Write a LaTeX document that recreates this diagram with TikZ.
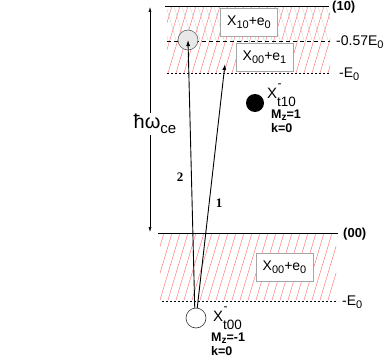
\documentclass[tikz,border=0pt]{standalone}
\usepackage{fontspec}
\setmainfont{Liberation Sans}
\newfontfamily\numfont{Liberation Serif}
\usetikzlibrary{arrows.meta}

% lowered index, as in E_0 or X_{10}
\newcommand{\lo}[1]{\raisebox{-0.45ex}{\fontsize{11}{11}\selectfont #1}}
% lowered index that adds no depth
\newcommand{\slo}[1]{\raisebox{-0.35ex}[0pt][0pt]{\fontsize{10}{10}\selectfont #1}}
% trion symbol with charge above and index below
\newcommand{\trion}[1]{X\rlap{\raisebox{11pt}{\fontsize{12}{12}\selectfont\kern0.5pt -}}\raisebox{-8.5pt}{\fontsize{13.5}{13.5}\selectfont #1}}

\begin{document}
\begin{tikzpicture}[
            x=1pt, y=-1pt,
            >={Latex[length=6pt, width=4pt]},
            level/.style={line width=0.9pt},
            mid level/.style={line width=0.8pt, dash pattern=on 4pt off 3pt},
            edge level/.style={line width=0.8pt, dash pattern=on 2pt off 2pt},
            hatch/.style={red!60, line width=0.4pt},
            cross hatch/.style={gray!40, line width=0.35pt},
            band label/.style={draw=gray!70, fill=white, line width=0.6pt, minimum width=57pt, minimum height=28pt, inner sep=0pt, font=\fontsize{14}{16}\selectfont},
            level label/.style={anchor=west, inner sep=0pt, font=\fontsize{14}{16}\selectfont},
            trion label/.style={anchor=base west, inner sep=0pt, font=\fontsize{15}{17}\selectfont},
            index label/.style={anchor=west, inner sep=0pt, font=\fontsize{13}{15}\selectfont\bfseries},
            quantum label/.style={anchor=base west, inner sep=0pt, font=\fontsize{12.5}{13}\selectfont\bfseries},
            transition/.style={->, line width=0.9pt},
            transition label/.style={inner sep=0pt, font=\fontsize{13}{15}\numfont\bfseries},
        ]
        \useasboundingbox (0,0) rectangle (388,361);

        % Hatched continua of the (10) and (00) Landau levels.
        \begin{scope}
            \clip (167,6) rectangle (330,73);
            \foreach \x in {120,128,...,340}
                \draw[hatch] (\x,73) -- ({\x+20},6);
            \foreach \x in {150,158,...,340}
                \draw[cross hatch] (\x,6) -- ({\x+10},40);
        \end{scope}
        \begin{scope}
            \clip (160,233) rectangle (336,300);
            \foreach \x in {120,128,...,340}
                \draw[hatch] (\x,300) -- ({\x+20},233);
        \end{scope}

        % Levels.
        \draw[level] (165,6) -- (329,6);
        \draw[mid level] (167,41) -- (330,41);
        \draw[edge level] (167,73) -- (330,73);
        \draw[level] (158,233) -- (338,233);
        \draw[edge level] (162,301) -- (338,301);

        \node[index label] at (332,7) {(10)};
        \node[level label] at (336,42) {-0.57E\lo{0}};
        \node[level label] at (339,74) {-E\lo{0}};
        \node[index label] at (343,234) {(00)};
        \node[level label] at (342,302) {-E\lo{0}};

        \node[band label] (b10) at (249,22.5) {X\lo{10}+e\lo{0}};
        \node[band label] (b01) at (264.5,57.5) {X\lo{00}+e\lo{1}};
        \node[band label] (b00) at (284.5,267.5) {X\lo{00}+e\lo{0}};

        % Cyclotron gap.
        \coordinate (gaptop) at (150,7);
        \coordinate (gapbot) at (150,232);
        \draw[<->, line width=0.5pt, >={Latex[length=5pt, width=3pt]}] (gaptop) -- (gapbot);
        \node[fill=white, inner sep=1pt, font=\fontsize{20}{22}\selectfont] (hw) at (155,124) {ħω\raisebox{-0.5ex}{\fontsize{15}{15}\selectfont ce}};

        % Trion states.
        \node[circle, draw=gray!80!black, fill=gray!18, line width=0.6pt, minimum size=20pt, inner sep=0pt] (x10) at (188,40) {};
        \node[circle, fill=black, minimum size=18pt, inner sep=0pt] (t10) at (255,103) {};
        \node[circle, draw=black!80, fill=white, line width=0.6pt, minimum size=20pt, inner sep=0pt] (x00) at (196,318) {};

        \node[trion label] (t10name) at (267,98) {\trion{t10}};
        \node[quantum label] at (271,118) {M\slo{z}=1};
        \node[quantum label] at (271,132) {k=0};
        \node[trion label] (x00name) at (213,321) {\trion{t00}};
        \node[quantum label] at (211,341) {M\slo{z}=-1};
        \node[quantum label] at (211,355) {k=0};

        % Optical transitions.
        \coordinate (end1) at (225,64);
        \draw[transition] (x00.97) -- (x10.center);
        \draw[transition] (x00.83) -- (end1);
        \node[transition label] at (180,177) {2};
        \node[transition label] at (219,203) {1};
        \end{tikzpicture}
\end{document}
